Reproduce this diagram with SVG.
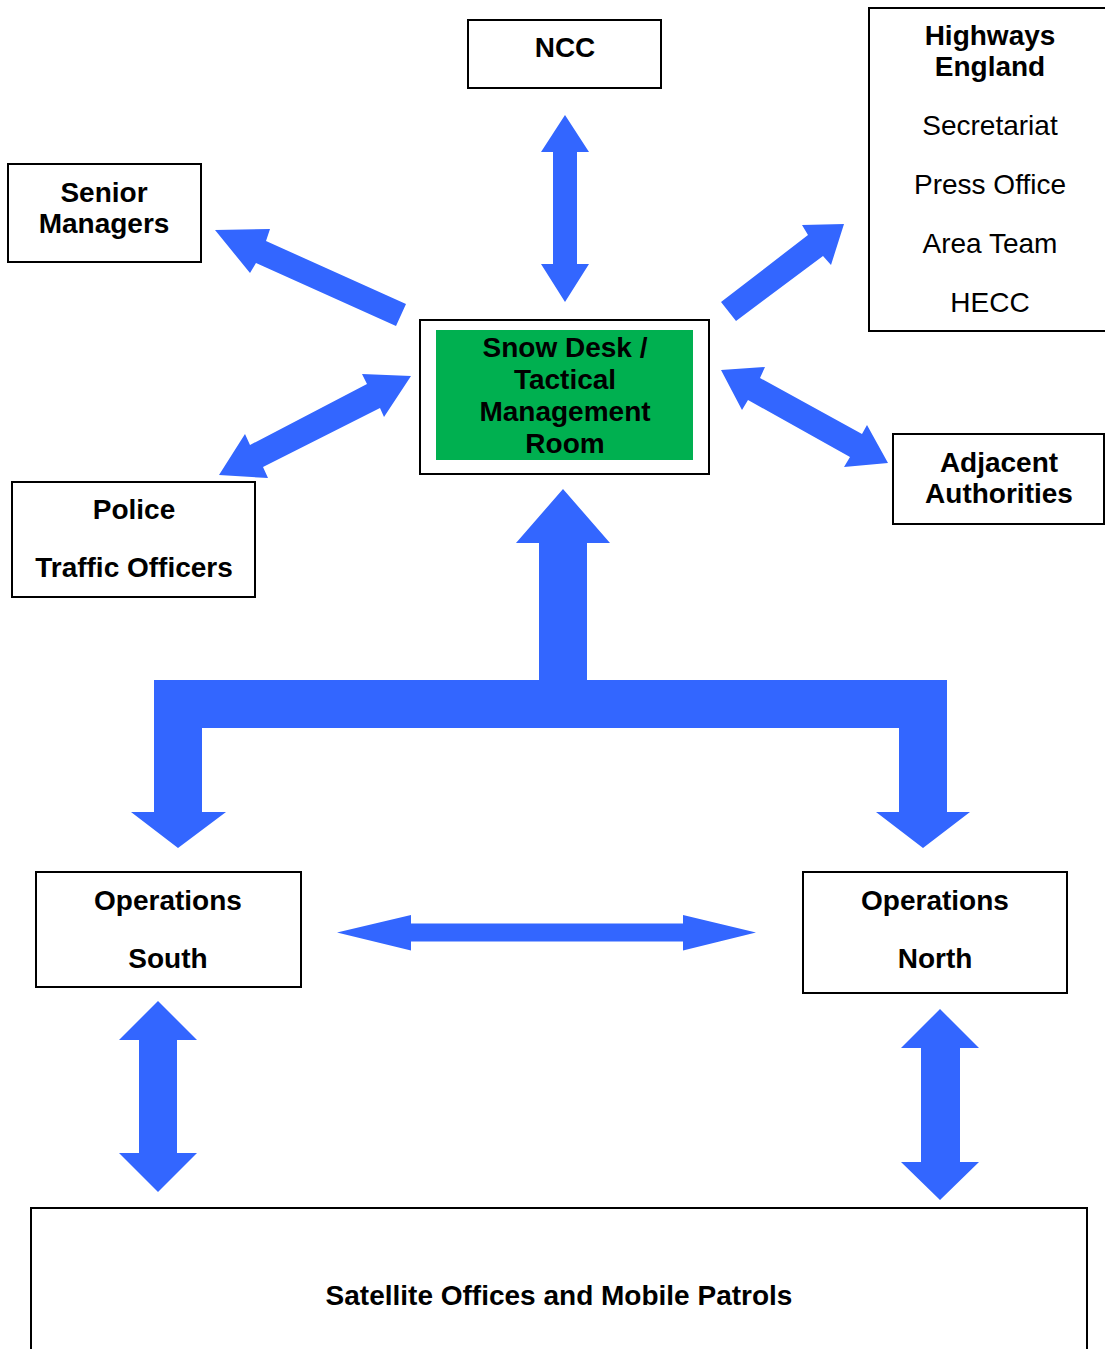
<svg xmlns="http://www.w3.org/2000/svg" width="1105" height="1349" viewBox="0 0 1105 1349">
<style>
.box{fill:#ffffff;stroke:#000000;stroke-width:2}
.arr{fill:#3366ff;stroke:none}
text{font-family:"Liberation Sans",Arial,sans-serif;font-size:28px;fill:#000000;text-anchor:middle}
.b{font-weight:bold}
</style>
<rect x="0" y="0" width="1105" height="1349" fill="#ffffff"/>
<g id="connectors">
<polygon class="arr" points="565,115 589,152 577,152 577,264 589,264 565,302 541,264 553,264 553,152 541,152"/>
<polygon class="arr" points="215,230 270,229 266,241 406,304 396,326 256,263 250,273"/>
<polygon class="arr" points="411,376 362,374 367,384 250,445 245,434 219,475 268,478 263,467 380,408 384,417"/>
<polygon class="arr" points="844,224 802,225 808,235 721,302 736,321 823,256 831,265"/>
<polygon class="arr" points="721,370 765,367 760,378 862,434 867,425 888,463 844,467 850,457 748,400 742,410"/>
<polygon class="arr" points="563,489 610,543 587,543 587,680 947,680 947,812 970,812 923,848 876,812 899,812 899,728 202,728 202,812 226,812 178,848 131,812 154,812 154,680 539,680 539,543 516,543"/>
<polygon class="arr" points="337,932.5 411,915 411,923.5 683,923.5 683,915 756,932.5 683,950.5 683,941.5 411,941.5 411,950.5"/>
<polygon class="arr" points="158,1001 197,1040 177,1040 177,1153 197,1153 158,1192 119,1153 139,1153 139,1040 119,1040"/>
<polygon class="arr" points="940,1009 979,1048 960,1048 960,1162 979,1162 940,1200 901,1162 921,1162 921,1048 901,1048"/>
</g>
<g id="ncc">
<rect class="box" x="468" y="20" width="193" height="68"/>
<text class="b" x="565" y="57">NCC</text>
</g>
<g id="highways">
<rect class="box" x="869" y="8" width="243" height="323"/>
<text class="b" x="990" y="45">Highways</text>
<text class="b" x="990" y="76">England</text>
<text x="990" y="135">Secretariat</text>
<text x="990" y="194">Press Office</text>
<text x="990" y="253">Area Team</text>
<text x="990" y="312">HECC</text>
</g>
<g id="senior">
<rect class="box" x="8" y="164" width="193" height="98"/>
<text class="b" x="104" y="202">Senior</text>
<text class="b" x="104" y="233">Managers</text>
</g>
<g id="snowdesk">
<rect class="box" x="420" y="320" width="289" height="154"/>
<rect x="436" y="330" width="257" height="130" fill="#00b050"/>
<text class="b" x="565" y="357">Snow Desk /</text>
<text class="b" x="565" y="389">Tactical</text>
<text class="b" x="565" y="421">Management</text>
<text class="b" x="565" y="453">Room</text>
</g>
<g id="police">
<rect class="box" x="12" y="482" width="243" height="115"/>
<text class="b" x="134" y="519">Police</text>
<text class="b" x="134" y="577">Traffic Officers</text>
</g>
<g id="adjacent">
<rect class="box" x="893" y="434" width="211" height="90"/>
<text class="b" x="999" y="472">Adjacent</text>
<text class="b" x="999" y="503">Authorities</text>
</g>
<g id="opsouth">
<rect class="box" x="36" y="872" width="265" height="115"/>
<text class="b" x="168" y="910">Operations</text>
<text class="b" x="168" y="968">South</text>
</g>
<g id="opnorth">
<rect class="box" x="803" y="872" width="264" height="121"/>
<text class="b" x="935" y="910">Operations</text>
<text class="b" x="935" y="968">North</text>
</g>
<g id="satellite">
<rect class="box" x="31" y="1208" width="1056" height="160"/>
<text class="b" x="559" y="1305">Satellite Offices and Mobile Patrols</text>
</g>
</svg>
